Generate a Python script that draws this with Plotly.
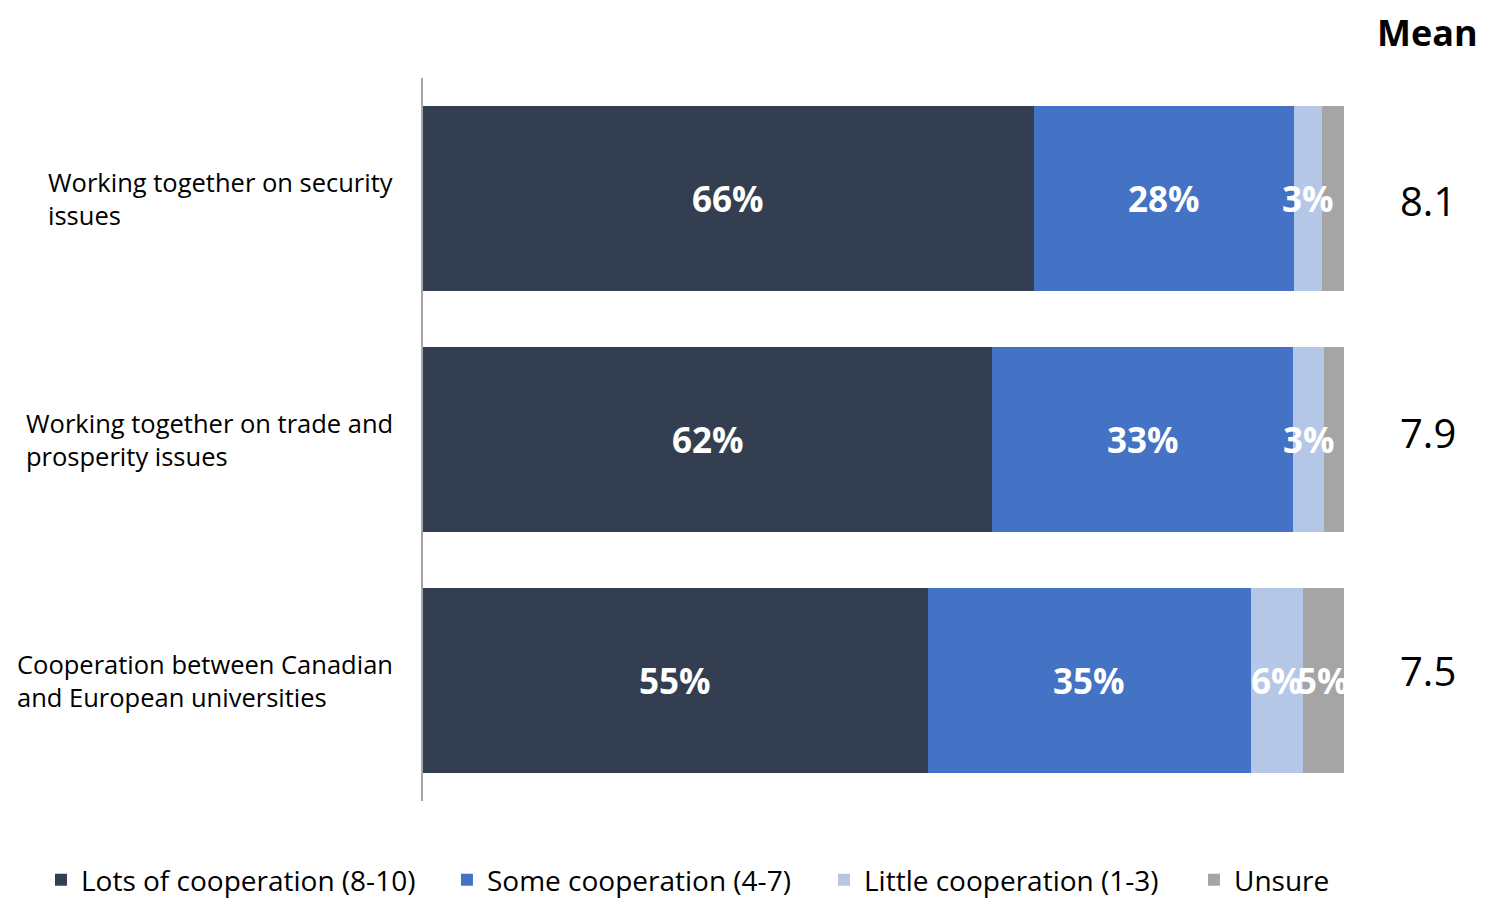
import numpy as np
import plotly.graph_objects as go

categories = ["Working together on security<br>issues",
              "Working together on trade and<br>prosperity issues",
              "Cooperation between Canadian<br>and European universities"]
series_names = ["Lots of cooperation (8-10)", "Some cooperation (4-7)",
                "Little cooperation (1-3)", "Unsure"]
lots = [66.3, 61.8, 54.8]
some = [28.3, 32.7, 35.1]
little = [3.0, 3.3, 5.6]
unsure = [2.4, 2.2, 4.5]
lots_lbl = ["66%", "62%", "55%"]
some_lbl = ["28%", "33%", "35%"]
little_lbl = ["3%", "3%", "6%"]
unsure_lbl = ["", "", "5%"]
means = ["8.1", "7.9", "7.5"]
mean_shift = [-2, 7, 10]
colors = ["#333F50", "#4472C4", "#B4C7E7", "#A5A5A5"]

FONT = "Open Sans"
series = [lots, some, little, unsure]
labels = [lots_lbl, some_lbl, little_lbl, unsure_lbl]
legend_ids = ["legend", "legend2", "legend3", "legend4"]
legend_x = [-0.4148, 0.0260, 0.4354, 0.8371]

fig = go.Figure()
for name, vals, col, lid in zip(series_names, series, colors, legend_ids):
    fig.add_trace(go.Bar(
        y=categories, x=vals, name=name, orientation="h",
        marker=dict(color=col, line=dict(width=0)),
        hoverinfo="skip", legend=lid,
    ))

# segment labels placed at the middle of each stacked segment (data coordinates)
arr = np.array(series, dtype=float)
ends = np.cumsum(arr, axis=0)
mids = ends - arr / 2
for si in range(arr.shape[0]):
    for ci, cat in enumerate(categories):
        if labels[si][ci]:
            fig.add_annotation(x=mids[si, ci], xref="x", y=cat, yref="y",
                               text="<b>" + labels[si][ci] + "</b>", showarrow=False,
                               font=dict(family=FONT, size=35, color="white"),
                               xanchor="center", yanchor="middle")

for cat, m, sh in zip(categories, means, mean_shift):
    fig.add_annotation(x=1.0912, xref="paper", y=cat, yref="y", text=m, yshift=sh,
                       showarrow=False, font=dict(family=FONT, size=40, color="black"),
                       xanchor="center")
    fig.add_annotation(x=-0.0304, xref="paper", y=cat, yref="y", text=cat,
                       showarrow=False, align="left", xanchor="right",
                       font=dict(family=FONT, size=25.5, color="black"))

fig.add_annotation(x=1.0912, xref="paper", y=1.0629, yref="paper", text="<b>Mean</b>",
                   showarrow=False, font=dict(family=FONT, size=36, color="black"),
                   xanchor="center", yanchor="middle")

legend_common = dict(orientation="h", xanchor="left", y=-0.1093, yanchor="middle",
                     font=dict(family=FONT, size=28, color="black"),
                     itemwidth=30, bgcolor="rgba(0,0,0,0)")
layout_legends = {lid: dict(legend_common, x=lx) for lid, lx in zip(legend_ids, legend_x)}

fig.update_layout(
    barmode="stack", bargap=0.23,
    width=1493, height=891,
    margin=dict(l=415, r=157, t=70, b=98, autoexpand=False),
    plot_bgcolor="white", paper_bgcolor="white",
    showlegend=True,
    xaxis=dict(range=[0, 100], visible=False, fixedrange=True),
    yaxis=dict(autorange="reversed", showticklabels=False, showline=True,
               linecolor="#A6A6A6", linewidth=2, ticks="", showgrid=False, zeroline=False),
    **layout_legends,
)

fig.write_html("out.html")
